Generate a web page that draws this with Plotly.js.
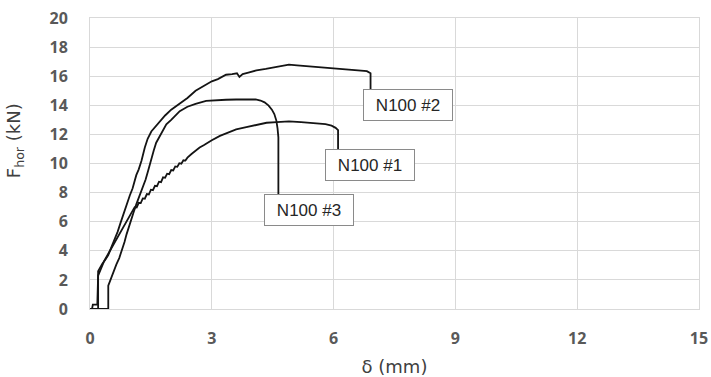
<!DOCTYPE html>
<html>
<head>
<meta charset="utf-8">
<script src="https://cdn.plot.ly/plotly-3.0.1.min.js"></script>
<style>
  html, body { margin: 0; padding: 0; background: #ffffff; }
  #chart { width: 711px; height: 377px; }
</style>
</head>
<body>
<div id="chart"></div>
<script>
// Horizontal load vs. displacement for the three N100 specimens
const seriesNames = ["N100 #1", "N100 #2", "N100 #3"];

const n100_1_x = [0, 0.05, 0.07, 0.18, 0.2, 0.27, 0.35, 0.45, 0.55, 0.65, 0.75, 0.85, 0.95, 1.05,
  1.10, 1.15, 1.20, 1.25, 1.30, 1.35, 1.40, 1.45, 1.50, 1.55, 1.60, 1.65, 1.70, 1.75, 1.80, 1.85,
  1.90, 1.95, 2.00, 2.05, 2.10, 2.15, 2.20, 2.25, 2.30, 2.35, 2.40, 2.50, 2.60, 2.70, 2.80, 2.90,
  3.00, 3.20, 3.40, 3.60, 3.85, 4.10, 4.35, 4.60, 4.90, 5.20, 5.50, 5.80, 5.95, 6.05, 6.11, 6.11];
const n100_1_y = [0, 0, 0.3, 0.3, 2.3, 2.8, 3.3, 3.8, 4.3, 4.8, 5.3, 5.8, 6.3, 6.7,
  7.0, 6.98, 7.3, 7.28, 7.6, 7.58, 7.9, 7.87, 8.2, 8.17, 8.47, 8.44, 8.75, 8.72, 9.05, 9.02,
  9.3, 9.27, 9.55, 9.52, 9.8, 9.77, 10.02, 9.99, 10.22, 10.2, 10.4, 10.65, 10.9, 11.1, 11.25, 11.45,
  11.6, 11.9, 12.1, 12.35, 12.5, 12.65, 12.8, 12.85, 12.9, 12.85, 12.8, 12.7, 12.6, 12.45, 12.3, 11.0];

const n100_2_x = [0.12, 0.2, 0.2, 0.25, 0.3, 0.38, 0.45, 0.52, 0.6, 0.68, 0.75, 0.82, 0.9, 0.98,
  1.05, 1.14, 1.2, 1.27, 1.35, 1.42, 1.51, 1.6, 1.72, 1.85, 2.0, 2.2, 2.4, 2.6, 2.8, 3.0, 3.15,
  3.35, 3.5, 3.62, 3.68, 3.76, 3.9, 4.1, 4.33, 4.6, 4.9, 5.1, 5.31, 5.6, 5.96, 6.2, 6.45, 6.65,
  6.82, 6.91, 6.91];
const n100_2_y = [0, 0, 2.6, 2.9, 3.1, 3.4, 3.7, 4.2, 4.7, 5.3, 5.9, 6.5, 7.1, 7.8,
  8.3, 9.2, 9.6, 10.2, 11.1, 11.7, 12.2, 12.5, 12.9, 13.3, 13.7, 14.1, 14.5, 15.0, 15.35, 15.65, 15.8,
  16.1, 16.15, 16.2, 15.95, 16.15, 16.25, 16.4, 16.5, 16.65, 16.8, 16.75, 16.7, 16.6, 16.55, 16.5, 16.45, 16.4,
  16.35, 16.2, 15.1];

const n100_3_x = [0, 0.45, 0.45, 0.49, 0.57, 0.65, 0.72, 0.78, 0.85, 0.9, 0.96, 1.02, 1.08, 1.14,
  1.22, 1.31, 1.37, 1.43, 1.51, 1.57, 1.63, 1.72, 1.8, 1.88, 2.0, 2.1, 2.21, 2.4, 2.6, 2.86, 3.1,
  3.35, 3.6, 3.85, 4.08, 4.2, 4.3, 4.4, 4.48, 4.54, 4.59, 4.62, 4.64, 4.64];
const n100_3_y = [0, 0, 1.6, 1.92, 2.5, 3.07, 3.5, 3.99, 4.6, 5.13, 5.7, 6.28, 6.7, 7.19,
  7.8, 8.34, 8.9, 9.48, 10.4, 10.9, 11.43, 11.9, 12.3, 12.69, 13.0, 13.3, 13.6, 13.9, 14.1, 14.3, 14.35,
  14.38, 14.4, 14.42, 14.4, 14.33, 14.2, 13.98, 13.7, 13.4, 12.95, 12.4, 11.8, 7.88];

const xTickVals = [0, 3, 6, 9, 12, 15];
const yTickVals = [0, 2, 4, 6, 8, 10, 12, 14, 16, 18, 20];

const xs = [n100_1_x, n100_2_x, n100_3_x];
const ys = [n100_1_y, n100_2_y, n100_3_y];
const calloutShift = [-13, -8, -14];

const traces = seriesNames.map((name, i) => ({
  type: 'scatter',
  mode: 'lines',
  name: name,
  x: xs[i],
  y: ys[i],
  line: { color: '#141414', width: 1.8 },
  showlegend: false,
  hoverinfo: 'skip'
}));

// Callout boxes hang from the last point of each curve
const labels = seriesNames.map((name, i) => ({
  text: name,
  xref: 'x', yref: 'y',
  x: xs[i][xs[i].length - 1],
  y: ys[i][ys[i].length - 1],
  xanchor: 'left', yanchor: 'top',
  xshift: calloutShift[i],
  showarrow: false,
  width: 86, height: 28,
  align: 'center', valign: 'middle',
  bgcolor: '#ffffff',
  bordercolor: '#8a8a8a',
  borderwidth: 1,
  borderpad: 1,
  font: { family: 'Liberation Sans, Arial, sans-serif', size: 17, color: '#262626' }
}));

// Vertical axis title, set slightly above the plot's mid-height
labels.push({
  text: 'F<sub>hor</sub> (kN)',
  xref: 'paper', yref: 'paper',
  x: -0.123, y: 0.577,
  xanchor: 'center', yanchor: 'middle',
  textangle: -90,
  showarrow: false,
  font: { family: 'DejaVu Sans, sans-serif', size: 18, color: '#404040' }
});

const gridColor = '#d9d9d9';
const tickFont = { family: 'Open Sans, sans-serif', size: 16, color: '#595959', weight: 'bold' };

const layout = {
  width: 711,
  height: 377,
  margin: { l: 90, r: 12, t: 18, b: 68 },
  paper_bgcolor: '#ffffff',
  plot_bgcolor: '#ffffff',
  xaxis: {
    range: [0, 15],
    tickvals: xTickVals,
    ticktext: xTickVals.map(String),
    showgrid: true,
    gridcolor: gridColor,
    gridwidth: 1,
    zeroline: false,
    showline: true,
    linecolor: gridColor,
    linewidth: 1,
    mirror: true,
    ticks: '',
    ticklabelstandoff: 15,
    tickfont: tickFont,
    title: {
      text: 'δ (mm)',
      standoff: 13,
      font: { family: 'DejaVu Sans, sans-serif', size: 18, color: '#404040' }
    }
  },
  yaxis: {
    range: [0, 20],
    tickvals: yTickVals,
    ticktext: yTickVals.map(String),
    showgrid: true,
    gridcolor: gridColor,
    gridwidth: 1,
    zeroline: false,
    showline: true,
    linecolor: gridColor,
    linewidth: 1,
    mirror: true,
    ticks: '',
    ticklabelstandoff: 18,
    tickfont: tickFont
  },
  annotations: labels
};

Plotly.newPlot('chart', traces, layout, { staticPlot: true, displayModeBar: false });
</script>
</body>
</html>
